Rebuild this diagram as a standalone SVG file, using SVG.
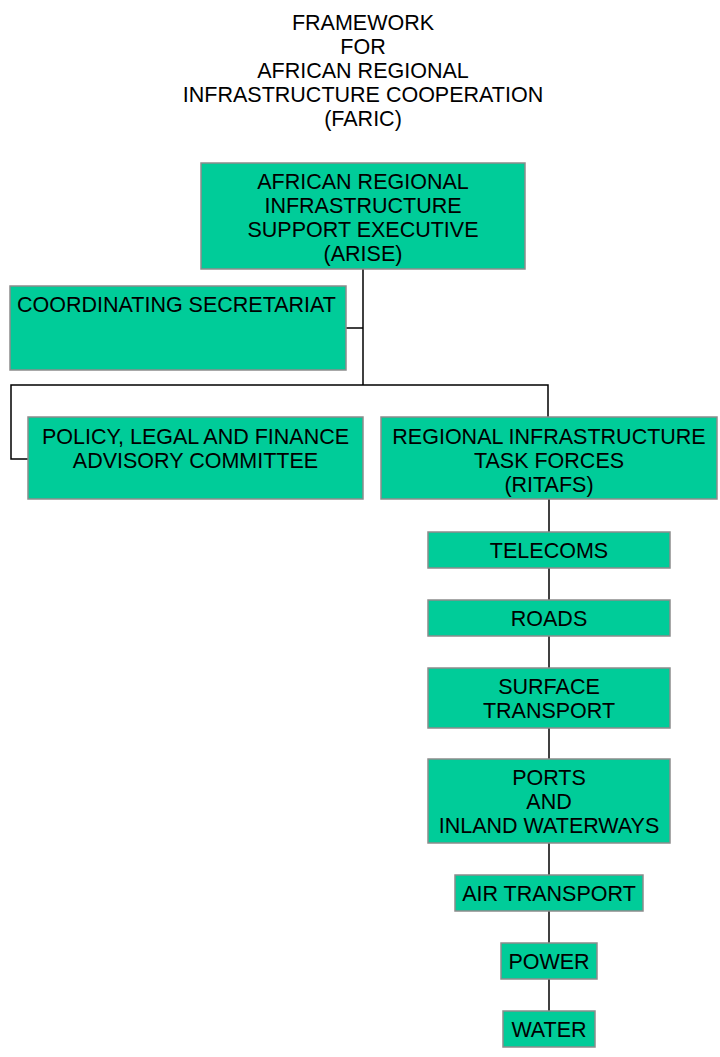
<svg xmlns="http://www.w3.org/2000/svg" width="720" height="1057" viewBox="0 0 720 1057">
<style>
.box{fill:#00CC99;stroke:#8C8C8C;stroke-width:1.5}
text{font-family:"Liberation Sans",Arial,sans-serif;font-size:21.5px;fill:#000}
.c{text-anchor:middle}
.ln{fill:none;stroke:#000;stroke-width:1.5}
</style>
<rect width="720" height="1057" fill="#fff"/>
<g id="title">
<text class="c" x="363" y="29.5">FRAMEWORK</text>
<text class="c" x="363" y="53.5">FOR</text>
<text class="c" x="363" y="77.5">AFRICAN REGIONAL</text>
<text class="c" x="363" y="101.5">INFRASTRUCTURE COOPERATION</text>
<text class="c" x="363" y="125.5">(FARIC)</text>
</g>
<g id="connectors">
<path class="ln" d="M363,269 V385"/>
<path class="ln" d="M346,328 H363"/>
<path class="ln" d="M28,459 H11 V385 H548 V417"/>
<path class="ln" d="M549,499 V1011"/>
</g>
<g id="arise">
<rect class="box" x="201" y="163" width="324" height="106"/>
<text class="c" x="363" y="188.5">AFRICAN REGIONAL</text>
<text class="c" x="363" y="212.5">INFRASTRUCTURE</text>
<text class="c" x="363" y="236.5">SUPPORT EXECUTIVE</text>
<text class="c" x="363" y="260.5">(ARISE)</text>
</g>
<g id="secretariat">
<rect class="box" x="10" y="286" width="336" height="84"/>
<text x="17" y="311.5">COORDINATING SECRETARIAT</text>
</g>
<g id="policy">
<rect class="box" x="28" y="417" width="335" height="82"/>
<text class="c" x="195.5" y="443.5">POLICY, LEGAL AND FINANCE</text>
<text class="c" x="195.5" y="467.5">ADVISORY COMMITTEE</text>
</g>
<g id="ritafs">
<rect class="box" x="381" y="417" width="336" height="82"/>
<text class="c" x="549" y="443.5">REGIONAL INFRASTRUCTURE</text>
<text class="c" x="549" y="467.5">TASK FORCES</text>
<text class="c" x="549" y="491.5">(RITAFS)</text>
</g>
<g id="telecoms">
<rect class="box" x="428" y="532" width="242" height="36"/>
<text class="c" x="549" y="557.5">TELECOMS</text>
</g>
<g id="roads">
<rect class="box" x="428" y="600" width="242" height="36"/>
<text class="c" x="549" y="625.5">ROADS</text>
</g>
<g id="surface">
<rect class="box" x="428" y="668" width="242" height="60"/>
<text class="c" x="549" y="693.5">SURFACE</text>
<text class="c" x="549" y="717.5">TRANSPORT</text>
</g>
<g id="ports">
<rect class="box" x="428" y="759" width="242" height="84"/>
<text class="c" x="549" y="784.5">PORTS</text>
<text class="c" x="549" y="808.5">AND</text>
<text class="c" x="549" y="832.5">INLAND WATERWAYS</text>
</g>
<g id="air">
<rect class="box" x="455" y="875" width="188" height="36"/>
<text class="c" x="549" y="900.5">AIR TRANSPORT</text>
</g>
<g id="power">
<rect class="box" x="501" y="943" width="96" height="36"/>
<text class="c" x="549" y="968.5">POWER</text>
</g>
<g id="water">
<rect class="box" x="503" y="1011" width="92" height="36"/>
<text class="c" x="549" y="1036.5">WATER</text>
</g>
</svg>
